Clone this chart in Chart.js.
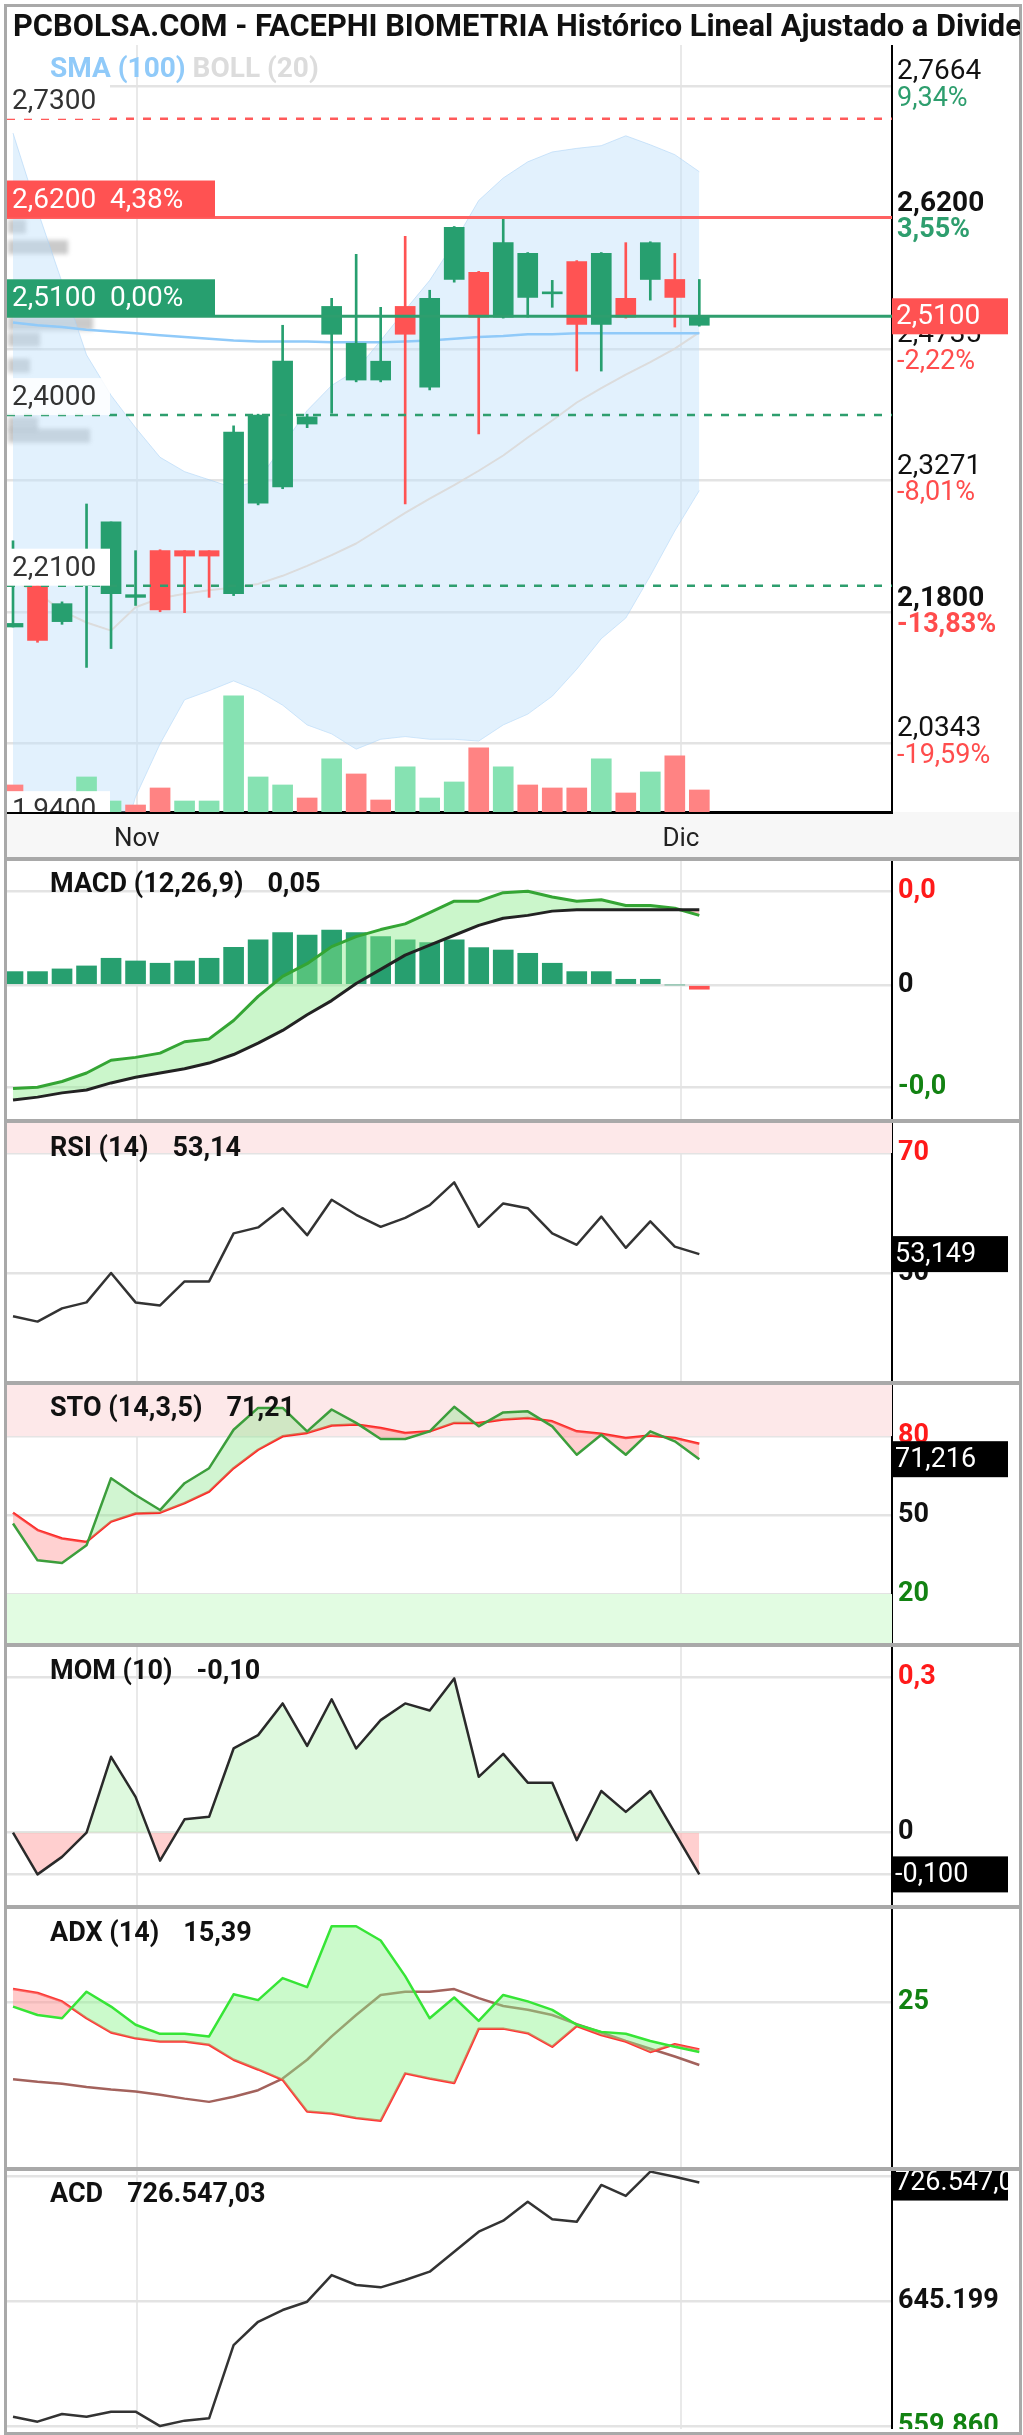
<!DOCTYPE html>
<html lang="es">
<head>
<meta charset="utf-8">
<title>FACEPHI BIOMETRIA</title>
<script src="https://cdn.jsdelivr.net/npm/chart.js@4.4.1/dist/chart.umd.min.js"></script>
<style>
  html, body { margin: 0; padding: 0; background: #fff; }
  #wrap { position: relative; width: 1023px; height: 2435px; overflow: hidden; font-family: Roboto, "Noto Sans", sans-serif; }
  #wrap canvas { position: absolute; left: 7px; }
  .frame { position: absolute; left: 4px; top: 4px; width: 1012px; height: 2425px; border: 3px solid #a9a9a9; }
  .sep { position: absolute; left: 4px; width: 1018px; height: 4px; background: #a9a9a9; }
  .title { position: absolute; left: 7px; top: 7px; width: 1013px; height: 38px; line-height: 38px; font-weight: bold; font-size: 30.8px; white-space: nowrap; overflow: hidden; color: #111; padding-left: 6px; box-sizing: border-box; }
  .lbl { position: absolute; left: 50px; font-weight: bold; font-size: 27px; color: #111; white-space: pre; line-height: 32px; }
  .lbl .v { margin-left: 24px; }
  .xstrip { position: absolute; left: 7px; top: 812px; width: 1013px; height: 45px; background: #f7f7f7; }
</style>
</head>
<body>
<div id="wrap">
  <div class="xstrip"></div>
  <canvas id="cMain" width="1013" height="813" style="top:45px"></canvas>
  <canvas id="cMacd" width="1013" height="258" style="top:861px"></canvas>
  <canvas id="cRsi" width="1013" height="258" style="top:1123px"></canvas>
  <canvas id="cSto" width="1013" height="258" style="top:1385px"></canvas>
  <canvas id="cMom" width="1013" height="258" style="top:1647px"></canvas>
  <canvas id="cAdx" width="1013" height="258" style="top:1909px"></canvas>
  <canvas id="cAcd" width="1013" height="258" style="top:2171px"></canvas>

  <div class="frame"></div>
  <div class="sep" style="top:857px"></div>
  <div class="sep" style="top:1119px"></div>
  <div class="sep" style="top:1381px"></div>
  <div class="sep" style="top:1643px"></div>
  <div class="sep" style="top:1905px"></div>
  <div class="sep" style="top:2167px"></div>

  <div class="title">PCBOLSA.COM - FACEPHI BIOMETRIA Histórico Lineal Ajustado a Dividendos</div>
  <div class="lbl" style="top:52px;font-size:28px"><span style="color:#90caf9">SMA (100)</span> <span style="color:#dcdcdc">BOLL (20)</span></div>
  <div class="lbl" id="lMacd" style="top:867px"></div>
  <div class="lbl" id="lRsi" style="top:1131px"></div>
  <div class="lbl" id="lSto" style="top:1391px"></div>
  <div class="lbl" id="lMom" style="top:1654px"></div>
  <div class="lbl" id="lAdx" style="top:1916px"></div>
  <div class="lbl" id="lAcd" style="top:2177px"></div>
</div>

<script>
// ---- price data (one entry per session) ----
const opens  = [2.164,2.210,2.170,2.210,2.201,2.197,2.249,2.249,2.249,2.201,2.302,2.320,2.390,2.490,2.439,2.439,2.521,2.431,2.551,2.559,2.509,2.531,2.535,2.571,2.501,2.530,2.551,2.551,2.500];
const highs  = [2.260,2.215,2.192,2.301,2.281,2.249,2.250,2.249,2.249,2.388,2.401,2.500,2.401,2.530,2.579,2.520,2.599,2.539,2.610,2.560,2.619,2.581,2.550,2.572,2.581,2.592,2.593,2.580,2.551];
const lows   = [2.164,2.147,2.167,2.119,2.140,2.188,2.181,2.180,2.197,2.199,2.300,2.318,2.386,2.402,2.437,2.437,2.301,2.428,2.548,2.379,2.508,2.509,2.520,2.449,2.449,2.508,2.528,2.498,2.499];
const closes = [2.168,2.149,2.190,2.212,2.281,2.200,2.183,2.243,2.243,2.381,2.400,2.460,2.398,2.521,2.480,2.460,2.490,2.530,2.609,2.509,2.592,2.580,2.537,2.501,2.580,2.509,2.592,2.531,2.510];
const prevClose = 2.20;
const volumes = [27000,12000,10000,35000,11000,7000,24000,11000,11000,116000,35000,27000,14000,53000,38000,12000,45000,14000,30000,64000,45000,27000,24000,24000,53000,19000,40000,56000,22000];

const bollUpper = [2.714,2.628,2.548,2.467,2.422,2.386,2.353,2.337,2.328,2.319,2.327,2.366,2.405,2.433,2.450,2.483,2.517,2.550,2.592,2.639,2.664,2.682,2.693,2.697,2.700,2.711,2.701,2.690,2.671];
const bollMid   = [2.216,2.202,2.182,2.169,2.160,2.186,2.196,2.201,2.205,2.208,2.212,2.221,2.232,2.244,2.257,2.274,2.291,2.307,2.322,2.338,2.355,2.375,2.394,2.414,2.430,2.445,2.459,2.474,2.492];
const bollLower = [1.720,1.780,1.815,1.860,1.885,1.975,2.034,2.083,2.093,2.104,2.093,2.077,2.055,2.045,2.028,2.039,2.042,2.039,2.039,2.037,2.055,2.067,2.087,2.117,2.151,2.174,2.221,2.271,2.316];
const sma100    = [2.503,2.500,2.498,2.495,2.493,2.491,2.489,2.487,2.485,2.483,2.482,2.482,2.482,2.481,2.481,2.481,2.482,2.483,2.485,2.487,2.488,2.490,2.490,2.491,2.491,2.491,2.491,2.491,2.491];

// volume at price (faint profile on the left)
const profilePrices = [2.610, 2.587, 2.502, 2.484, 2.455, 2.390, 2.377];
const profileVols   = [18000, 60000, 85000, 32000, 22000, 30000, 82000];

// support / resistance levels
const levels = [2.73, 2.62, 2.51, 2.40, 2.21, 1.94];

// main axis ticks
const mainTicks = [2.7664, 2.62, 2.4735, 2.3271, 2.18, 2.0343];
const boldTicks = [2.62, 2.18];
const pctLabels = ['9,34%', '3,55%', '-2,22%', '-8,01%', '-13,83%', '-19,59%'];

// month ticks (position in sessions)
const monthPos = [5.05, 27.25];
const monthLabels = ['Nov', 'Dic'];

// ---- indicators ----
const macd   = [-0.073,-0.072,-0.068,-0.062,-0.053,-0.051,-0.048,-0.040,-0.038,-0.025,-0.008,0.006,0.015,0.027,0.034,0.039,0.043,0.051,0.059,0.059,0.065,0.066,0.062,0.059,0.060,0.056,0.056,0.054,0.049];
const signal = [-0.081,-0.079,-0.076,-0.074,-0.069,-0.065,-0.062,-0.059,-0.055,-0.049,-0.041,-0.032,-0.021,-0.011,0.001,0.011,0.021,0.028,0.035,0.042,0.047,0.049,0.052,0.053,0.053,0.053,0.053,0.053,0.053];
const hist   = [0.0094,0.0094,0.0113,0.0134,0.0188,0.0169,0.0153,0.0169,0.0188,0.0265,0.0317,0.0369,0.0352,0.0387,0.0369,0.0340,0.0317,0.0298,0.0317,0.0263,0.0246,0.0223,0.0153,0.0094,0.0094,0.0040,0.0040,0,-0.003];
const rsi    = [42.8,41.9,44.1,45.1,50.0,45.1,44.6,48.6,48.6,56.6,57.6,60.8,56.3,62.2,59.7,57.7,59.2,61.3,65.1,57.7,61.6,60.8,56.6,54.7,59.4,54.2,58.6,54.4,53.149];
const stoK   = [46.8,32.8,31.8,38.5,64.0,57.6,51.9,62.1,67.8,82.4,90.7,90.7,81.8,90.1,85.0,78.9,78.9,81.8,91.1,83.7,89.0,89.4,83.7,72.9,80.5,72.9,81.8,78.0,71.216];
const stoD   = [50.9,44.3,41.1,39.8,47.5,50.6,50.9,54.5,58.9,67.8,74.8,79.9,81.2,84.0,84.4,83.1,81.2,81.8,85.0,85.0,86.3,86.9,85.6,81.8,80.9,79.3,80.2,79.3,77.1];
const mom    = [0.0,-0.1,-0.058,0.0,0.182,0.086,-0.067,0.032,0.038,0.202,0.234,0.31,0.208,0.32,0.202,0.27,0.31,0.293,0.37,0.134,0.189,0.12,0.12,-0.018,0.1,0.05,0.1,0.0,-0.1];
const diPlus = [24.4,23.1,22.6,26.7,24.4,21.6,20.2,20.2,19.8,26.3,25.4,28.8,27.4,36.8,36.8,34.6,29.1,22.6,25.8,22.2,26.2,25.2,23.9,21.6,20.5,20.2,19.1,18.2,17.4];
const diMinus= [27.1,26.5,25.2,22.6,20.4,19.5,19.0,19.0,18.5,16.2,14.7,13.1,8.2,7.9,7.2,6.8,14.1,13.3,12.6,21.0,21.0,20.3,18.2,21.4,20.0,19.0,17.4,18.6,17.8];
const adx    = [13.2,12.8,12.5,12.0,11.6,11.3,10.8,10.2,9.7,10.5,11.5,13.3,16.2,19.8,23.1,26.2,26.7,26.7,27.1,25.7,24.5,23.9,23.1,21.7,20.4,19.1,17.9,16.7,15.39];
const acd    = [566700,563300,568500,566700,570100,570100,560300,564000,565600,615600,631500,639500,645200,663400,656600,655000,660000,665700,679300,693000,700500,713500,701500,699800,724900,717400,734000,730500,726547.03];

// ---- helpers ----
const FONT = 'Roboto, "Noto Sans", sans-serif';
const AXIS_W = 128;
const X_MIN = -0.245, X_MAX = 35.861;
const GREEN = '#279f6f', RED = '#ff5353';
const last = a => a[a.length - 1];
const fmt = (v, d) => v.toFixed(d).replace('.', ',');
const trunc = (v, d) => fmt(Math.trunc(v * Math.pow(10, d)) / Math.pow(10, d), d);
const fmtThousands = (v, d) => {
  const parts = v.toFixed(d).split('.');
  return parts[0].replace(/\B(?=(\d{3})+(?!\d))/g, '.') + (parts[1] ? ',' + parts[1] : '');
};
const xy = arr => arr.map((v, i) => ({x: i, y: v}));

Chart.defaults.font.family = FONT;
Chart.defaults.animation = false;
Chart.defaults.events = [];
Chart.defaults.plugins.legend.display = false;
Chart.defaults.plugins.tooltip.enabled = false;

function xScale(showLabels) {
  return {
    type: 'linear', min: X_MIN, max: X_MAX, offset: false,
    afterBuildTicks: s => { s.ticks = monthPos.map(v => ({value: v})); },
    afterFit: s => { s.height = showLabels ? 46 : 0; },
    grid: {color: '#e9e9e9', lineWidth: 2, drawTicks: false, offset: false},
    border: {display: showLabels, color: '#000', width: 3},
    ticks: {display: showLabels, autoSkip: false, maxRotation: 0, padding: 12, color: '#222',
            font: {size: 26}, callback: (v, i) => monthLabels[i]}
  };
}

function yScale(min, max, tickVals) {
  return {
    position: 'right', min: min, max: max,
    afterBuildTicks: s => { s.ticks = tickVals.map(v => ({value: v})); },
    afterFit: s => { s.width = AXIS_W; },
    grid: {color: '#e3e3e3', lineWidth: 2.5, drawTicks: false},
    border: {color: '#000', width: 2},
    ticks: {display: false}
  };
}

// bands, right labels and value box for indicator panels
const deco = {
  id: 'deco',
  beforeDatasetsDraw(chart, args, o) {
    const {ctx, chartArea: a, scales: {y}} = chart;
    (o.bands || []).forEach(b => {
      const y1 = y.getPixelForValue(b.from), y2 = y.getPixelForValue(b.to);
      ctx.fillStyle = b.color;
      ctx.fillRect(a.left, Math.min(y1, y2), a.right - a.left, Math.abs(y2 - y1));
    });
  },
  afterDraw(chart, args, o) {
    const {ctx, chartArea: a, scales: {y}} = chart;
    ctx.save();
    ctx.textBaseline = 'middle';
    ctx.textAlign = 'left';
    (o.labels || []).forEach(l => {
      ctx.font = (l.bold ? 'bold ' : '') + (l.size || 27) + 'px ' + FONT;
      ctx.fillStyle = l.color;
      ctx.fillText(l.text, a.right + 6, y.getPixelForValue(l.v) + (l.dy || 0));
    });
    if (o.box) {
      const py = y.getPixelForValue(o.box.v);
      ctx.fillStyle = o.box.bg;
      ctx.fillRect(a.right, py - 18, 116, 36);
      ctx.beginPath();
      ctx.rect(a.right, py - 18, 116, 36);
      ctx.clip();
      ctx.fillStyle = '#fff';
      ctx.font = '27px ' + FONT;
      ctx.fillText(o.box.text, a.right + 3, py + 1);
    }
    ctx.restore();
  }
};

// level lines with their tag boxes, on the price chart
const levelStyle = [
  {color: '#ff5a5a', dash: [8, 9], width: 2.5, box: '#fff', text: '#333', pct: false},
  {color: '#ff6161', dash: [], width: 3, box: '#ff5252', text: '#fff', pct: true},
  {color: '#2e9e6e', dash: [], width: 3, box: '#279f6f', text: '#fff', pct: true},
  {color: '#2e9e6e', dash: [8, 9], width: 2.5, box: 'rgba(255,255,255,0.85)', text: '#333', pct: false},
  {color: '#2e9e6e', dash: [8, 9], width: 2.5, box: '#fff', text: '#333', pct: false},
  {color: '#2e9e6e', dash: [8, 9], width: 2.5, box: '#fff', text: '#333', pct: false}
];
const mainDeco = {
  id: 'mainDeco',
  beforeDatasetsDraw(chart) {
    // blurred volume-at-price blocks
    const {ctx, chartArea: a, scales: {y, yv}} = chart;
    const pxPerVol = (yv.getPixelForValue(0) - yv.getPixelForValue(1000)) / 1000;
    ctx.save();
    ctx.filter = 'blur(2px)';
    ctx.fillStyle = 'rgba(150,150,150,0.5)';
    profilePrices.forEach((p, i) => {
      const py = y.getPixelForValue(p);
      ctx.fillRect(a.left + 1, py - 7, profileVols[i] * pxPerVol, 14);
    });
    ctx.restore();
  },
  afterDatasetsDraw(chart) {
    const {ctx, chartArea: a, scales: {y}} = chart;
    const lastClose = last(closes);
    ctx.save();
    ctx.beginPath();
    ctx.rect(a.left, a.top, a.right - a.left, a.bottom - a.top);
    ctx.clip();
    levels.forEach((v, i) => {
      const st = levelStyle[i];
      const py = y.getPixelForValue(v);
      ctx.strokeStyle = st.color;
      ctx.lineWidth = st.width;
      ctx.setLineDash(st.dash);
      ctx.beginPath();
      ctx.moveTo(a.left, py);
      ctx.lineTo(a.right, py);
      ctx.stroke();
      ctx.setLineDash([]);
      const txt = fmt(v, 4) + (st.pct ? '  ' + fmt((v / lastClose - 1) * 100, 2) + '%' : '');
      const w = st.pct ? 208 : 103;
      ctx.fillStyle = st.box;
      ctx.fillRect(a.left, py - 37, w, 37);
      ctx.fillStyle = st.text;
      ctx.font = '28px ' + FONT;
      ctx.textBaseline = 'middle';
      ctx.fillText(txt, a.left + 5, py - 17);
    });
    ctx.restore();
  },
  afterDraw(chart) {
    const {ctx, chartArea: a, scales: {y}} = chart;
    ctx.save();
    ctx.textBaseline = 'middle';
    mainTicks.forEach((v, i) => {
      const py = y.getPixelForValue(v);
      const bold = boldTicks.includes(v);
      ctx.font = (bold ? 'bold ' : '') + '28px ' + FONT;
      ctx.fillStyle = '#111';
      ctx.fillText(fmt(v, 4), a.right + 5, py - 14);
      ctx.font = (bold ? 'bold ' : '') + '27px ' + FONT;
      ctx.fillStyle = pctLabels[i].startsWith('-') ? '#ff4d4d' : '#2e9e6e';
      ctx.fillText(pctLabels[i], a.right + 5, py + 13);
    });
    const py = y.getPixelForValue(last(closes));
    ctx.fillStyle = '#ff5252';
    ctx.fillRect(a.right, py - 18, 116, 36);
    ctx.fillStyle = '#fff';
    ctx.font = '28px ' + FONT;
    ctx.fillText(fmt(last(closes), 4), a.right + 4, py + 1);
    ctx.restore();
  }
};

const candleColor = c => closes[c.dataIndex] >= opens[c.dataIndex] ? GREEN : RED;
const volColor = c => {
  const i = c.dataIndex;
  const prev = i === 0 ? prevClose : closes[i - 1];
  return closes[i] >= prev ? '#86e2b2' : '#ff8383';
};
const lineDs = (data, color, width, extra) => Object.assign({
  type: 'line', data: xy(data), borderColor: color, borderWidth: width,
  pointRadius: 0, tension: 0, fill: false, borderJoinStyle: 'round'
}, extra || {});

const baseOpts = (showX, y, plugOpts) => ({
  responsive: false, devicePixelRatio: 1, animation: false,
  layout: {padding: 0},
  scales: {x: xScale(showX), y: y},
  plugins: {legend: {display: false}, tooltip: {enabled: false}, deco: plugOpts || {}}
});

// ---- main price chart ----
const mainOpts = baseOpts(true, yScale(1.958, 2.8121, mainTicks));
mainOpts.scales.yv = {display: false, min: 0, max: Math.max(...volumes) * 766 / 116};
new Chart(document.getElementById('cMain'), {
  type: 'bar',
  data: {datasets: [
    lineDs(bollUpper, 'rgba(170,210,245,0.55)', 1, {fill: '+1', backgroundColor: 'rgba(190,225,250,0.45)', order: 10}),
    lineDs(bollLower, 'rgba(170,210,245,0.55)', 1, {order: 10}),
    lineDs(bollMid, '#dcdcdc', 2, {order: 9}),
    lineDs(sma100, '#90caf9', 2.5, {order: 8}),
    {type: 'bar', yAxisID: 'yv', data: xy(volumes), backgroundColor: volColor, barThickness: 20, grouped: false, order: 7},
    {type: 'bar', data: lows.map((l, i) => ({x: i, y: [l, highs[i]]})), backgroundColor: candleColor, barThickness: 2, grouped: false, order: 2},
    {type: 'bar', data: opens.map((o, i) => ({x: i, y: [o, closes[i]]})), backgroundColor: candleColor, barThickness: 20, minBarLength: 2, grouped: false, order: 1}
  ]},
  options: mainOpts,
  plugins: [mainDeco]
});

// ---- MACD ----
const macdTicks = [0.066, 0, -0.072];
new Chart(document.getElementById('cMacd'), {
  type: 'bar',
  data: {datasets: [
    lineDs(macd, '#34a534', 3, {fill: {target: '+1', above: 'rgba(140,235,140,0.45)', below: 'rgba(255,140,140,0.45)'}, order: 2}),
    lineDs(signal, '#222', 3, {order: 1}),
    {type: 'bar', data: xy(hist), backgroundColor: c => hist[c.dataIndex] >= 0 ? '#279f6f' : '#ff5252', barThickness: 20, grouped: false, order: 5}
  ]},
  options: baseOpts(false, yScale(-0.0944, 0.0873, macdTicks), {
    labels: [
      {v: 0.066, text: '0,0', color: '#ff1a1a', bold: true},
      {v: 0, text: '0', color: '#111', bold: true},
      {v: -0.072, text: '-0,0', color: '#128212', bold: true}
    ]
  }),
  plugins: [deco]
});

// ---- RSI ----
new Chart(document.getElementById('cRsi'), {
  type: 'line',
  data: {datasets: [lineDs(rsi, '#333', 2.5)]},
  options: baseOpts(false, yScale(32, 75, [70, 50]), {
    bands: [{from: 70, to: 75, color: '#fde8e9'}],
    labels: [{v: 70, text: '70', color: '#ff1a1a', bold: true}, {v: 50, text: '50', color: '#111', bold: true}],
    box: {v: last(rsi), text: fmt(last(rsi), 3), bg: '#000'}
  }),
  plugins: [deco]
});

// ---- Stochastic ----
new Chart(document.getElementById('cSto'), {
  type: 'line',
  data: {datasets: [
    lineDs(stoK, '#3c9e3c', 2.5, {fill: {target: '+1', above: 'rgba(140,230,140,0.4)', below: 'rgba(255,140,140,0.4)'}}),
    lineDs(stoD, '#ff2626', 2.5)
  ]},
  options: baseOpts(false, yScale(1.4, 99.4, [80, 50, 20]), {
    bands: [{from: 80, to: 99.4, color: '#fde8e9'}, {from: 1.4, to: 20, color: '#e2fce2'}],
    labels: [
      {v: 80, text: '80', color: '#ff1a1a', bold: true},
      {v: 50, text: '50', color: '#111', bold: true},
      {v: 20, text: '20', color: '#128212', bold: true}
    ],
    box: {v: last(stoK), text: fmt(last(stoK), 3), bg: '#000'}
  }),
  plugins: [deco]
});

// ---- Momentum ----
new Chart(document.getElementById('cMom'), {
  type: 'line',
  data: {datasets: [
    lineDs(mom, '#2a2a2a', 2.5, {fill: {target: 'origin', above: 'rgba(200,245,200,0.6)', below: 'rgba(255,175,175,0.6)'}})
  ]},
  options: baseOpts(false, yScale(-0.1734, 0.4453, [0.373, 0, -0.1]), {
    labels: [{v: 0.373, text: '0,3', color: '#ff1a1a', bold: true}, {v: 0, text: '0', color: '#111', bold: true}],
    box: {v: last(mom), text: fmt(last(mom), 3), bg: '#000'}
  }),
  plugins: [deco]
});

// ---- ADX ----
new Chart(document.getElementById('cAdx'), {
  type: 'line',
  data: {datasets: [
    lineDs(diPlus, '#36e536', 2.5, {fill: {target: '+1', above: 'rgba(140,245,140,0.45)', below: 'rgba(255,150,150,0.5)'}}),
    lineDs(diMinus, '#ff3535', 2.5),
    lineDs(adx, '#a3625c', 2.5)
  ]},
  options: baseOpts(false, yScale(-0.35, 39.46, [25]), {
    labels: [{v: 25, text: '25', color: '#128212', bold: true}]
  }),
  plugins: [deco]
});

// ---- Accumulation / distribution ----
const acdTicks = [730538, 645199, 559860];
new Chart(document.getElementById('cAcd'), {
  type: 'line',
  data: {datasets: [lineDs(acd, '#333', 2.5)]},
  options: baseOpts(false, yScale(558290, 734430, acdTicks), {
    labels: [
      {v: 645199, text: fmtThousands(645199, 0), color: '#111', bold: true},
      {v: 559860, text: fmtThousands(559860, 0), color: '#128212', bold: true}
    ],
    box: {v: last(acd), text: fmtThousands(last(acd), 2), bg: '#000'}
  }),
  plugins: [deco]
});

// ---- panel titles ----
const setLbl = (id, name, val) => {
  document.getElementById(id).innerHTML = name + '<span class="v">' + val + '</span>';
};
setLbl('lMacd', 'MACD (12,26,9)', fmt(last(macd), 2));
setLbl('lRsi', 'RSI (14)', trunc(last(rsi), 2));
setLbl('lSto', 'STO (14,3,5)', trunc(last(stoK), 2));
setLbl('lMom', 'MOM (10)', fmt(last(mom), 2));
setLbl('lAdx', 'ADX (14)', fmt(last(adx), 2));
setLbl('lAcd', 'ACD', fmtThousands(last(acd), 2));
</script>
</body>
</html>
